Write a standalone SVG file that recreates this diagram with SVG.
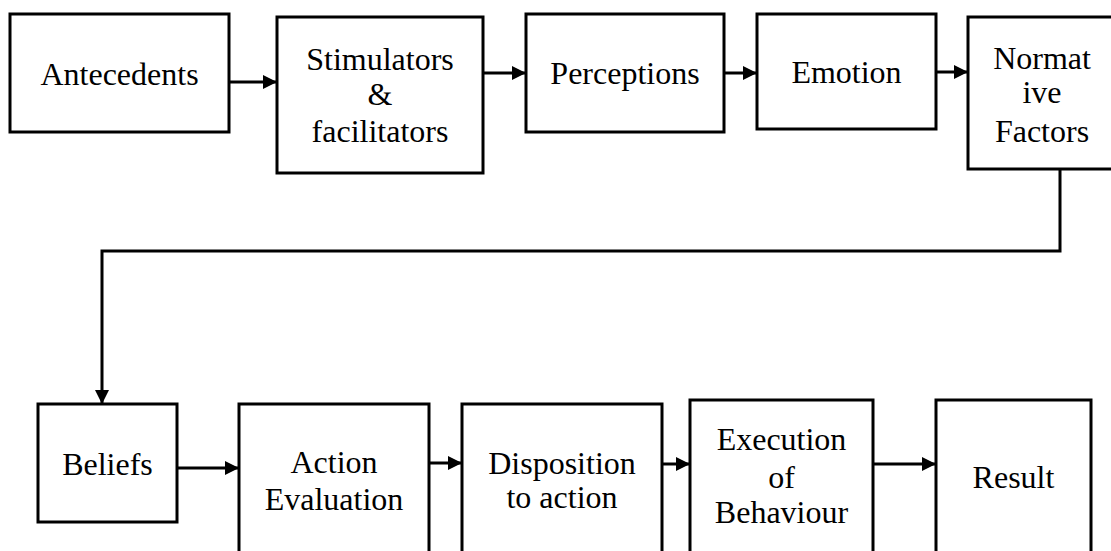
<svg xmlns="http://www.w3.org/2000/svg" width="1111" height="551" viewBox="0 0 1111 551">
<style>
.box{fill:#fff;stroke:#000;stroke-width:3}
.lbl{font-family:"Liberation Serif","Times New Roman",serif;font-size:32px;fill:#000;text-anchor:middle}
.con{fill:none;stroke:#000;stroke-width:3}
</style>
<defs>
<marker id="ah" markerUnits="userSpaceOnUse" markerWidth="14" markerHeight="14" refX="13" refY="7" orient="auto">
<path d="M0,0 L14,7 L0,14 Z" fill="#000"/>
</marker>
</defs>
<rect width="1111" height="551" fill="#fff"/>
<g id="connectors">
<line class="con" x1="229" y1="82" x2="276" y2="82" marker-end="url(#ah)"/>
<line class="con" x1="483" y1="73" x2="525" y2="73" marker-end="url(#ah)"/>
<line class="con" x1="724" y1="73" x2="756" y2="73" marker-end="url(#ah)"/>
<line class="con" x1="936" y1="72" x2="967" y2="72" marker-end="url(#ah)"/>
<polyline class="con" points="1060,169 1060,251 102,251 102,403" marker-end="url(#ah)"/>
<line class="con" x1="177" y1="468" x2="238" y2="468" marker-end="url(#ah)"/>
<line class="con" x1="429" y1="463" x2="461" y2="463" marker-end="url(#ah)"/>
<line class="con" x1="662" y1="464" x2="689" y2="464" marker-end="url(#ah)"/>
<line class="con" x1="873" y1="464" x2="935" y2="464" marker-end="url(#ah)"/>
</g>
<g id="antecedents">
<rect class="box" x="10" y="14" width="219" height="118"/>
<text class="lbl" x="119.5" y="85">Antecedents</text>
</g>
<g id="stimulators">
<rect class="box" x="277" y="17" width="206" height="156"/>
<text class="lbl" x="380" y="70">Stimulators</text>
<text class="lbl" x="380" y="105">&amp;</text>
<text class="lbl" x="380" y="142">facilitators</text>
</g>
<g id="perceptions">
<rect class="box" x="526" y="14" width="198" height="118"/>
<text class="lbl" x="625" y="84">Perceptions</text>
</g>
<g id="emotion">
<rect class="box" x="757" y="14" width="179" height="115"/>
<text class="lbl" x="846.5" y="83">Emotion</text>
</g>
<g id="normative">
<rect class="box" x="968" y="17" width="146" height="152"/>
<text class="lbl" x="1042" y="69">Normat</text>
<text class="lbl" x="1042" y="103">ive</text>
<text class="lbl" x="1042" y="142">Factors</text>
</g>
<g id="beliefs">
<rect class="box" x="38" y="404" width="139" height="118"/>
<text class="lbl" x="107.5" y="475">Beliefs</text>
</g>
<g id="action-evaluation">
<rect class="box" x="239" y="404" width="190" height="160"/>
<text class="lbl" x="334" y="473">Action</text>
<text class="lbl" x="334" y="510">Evaluation</text>
</g>
<g id="disposition">
<rect class="box" x="462" y="404" width="200" height="160"/>
<text class="lbl" x="562" y="474">Disposition</text>
<text class="lbl" x="562" y="508">to action</text>
</g>
<g id="execution">
<rect class="box" x="690" y="400" width="183" height="164"/>
<text class="lbl" x="781.5" y="450">Execution</text>
<text class="lbl" x="781.5" y="488">of</text>
<text class="lbl" x="781.5" y="523">Behaviour</text>
</g>
<g id="result">
<rect class="box" x="936" y="400" width="155" height="164"/>
<text class="lbl" x="1013.5" y="488">Result</text>
</g>
</svg>
